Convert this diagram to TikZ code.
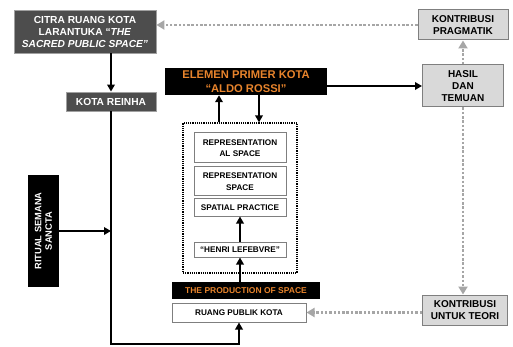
\documentclass[tikz,border=0pt]{standalone}
\usepackage{fontspec}
\setmainfont{Liberation Sans}
\definecolor{boxdark}{HTML}{4D4D4D}
\definecolor{boxedge}{HTML}{A0A0A0}
\definecolor{boxlight}{HTML}{D9D9D9}
\definecolor{edgegray}{HTML}{7F7F7F}
\definecolor{textorange}{HTML}{E8842C}
\definecolor{linkgray}{HTML}{A6A6A6}
\usetikzlibrary{arrows.meta,positioning,calc}

\begin{document}
\begin{tikzpicture}[
  x=1pt, y=-1pt,
  darkbox/.style={draw=boxedge, fill=boxdark, text=white, line width=0.8pt,
    font=\fontsize{10.2}{12}\selectfont\bfseries, align=center, inner sep=1pt},
  blackbox/.style={fill=black, text=textorange, align=center, inner sep=1pt,
    font=\fontsize{8.5}{10}\selectfont\bfseries},
  greybox/.style={draw=edgegray, fill=boxlight, line width=1pt,
    font=\fontsize{10}{12.3}\selectfont\bfseries, align=center, inner sep=1pt},
  whitebox/.style={draw=edgegray, fill=white, line width=1pt,
    font=\fontsize{8.2}{11.5}\selectfont\bfseries, align=center, inner sep=1pt},
  flow/.style={line width=2.4pt, -{Triangle[length=7pt,width=7.5pt]}},
  feedback/.style={draw=linkgray, line width=2.6pt, dash pattern=on 2.5pt off 1.8pt,
    -{Triangle[length=8pt,width=9pt]}}
]
  \useasboundingbox (0,0) rectangle (513,347);

  % Left column
  \node[darkbox, minimum width=142pt, minimum height=43pt] (citra) at (85,31.5)
    {CITRA RUANG KOTA\\LARANTUKA “\textit{THE}\\\textit{SACRED PUBLIC SPACE”}};
  \node[darkbox, minimum width=90pt, minimum height=19pt] (reinha) at (111,101.5)
    {KOTA REINHA};
  \node[blackbox, text=white, rotate=90, minimum width=112pt, minimum height=31pt,
    font=\fontsize{9.3}{10.5}\selectfont\bfseries] (ritual) at (43.5,231)
    {RITUAL SEMANA\\SANCTA};

  % Centre column (Rossi / Lefebvre)
  \node[blackbox, minimum width=162pt, minimum height=27pt,
    font=\fontsize{11.2}{14}\selectfont\bfseries] (elemen) at (246,81.5)
    {ELEMEN PRIMER KOTA\\“ALDO ROSSI”};
  \node[draw, line width=1.2pt, dash pattern=on 1.2pt off 1pt,
    minimum width=114pt, minimum height=150pt] (frame) at (240,198) {};
  \node[whitebox, minimum width=92pt, minimum height=30pt] (repal) at (240,148)
    {REPRESENTATION\\AL SPACE};
  \node[whitebox, minimum width=92pt, minimum height=29pt] (repsp) at (240,181.5)
    {REPRESENTATION\\SPACE};
  \node[whitebox, minimum width=92pt, minimum height=17pt] (spatial) at (240,207.5)
    {SPATIAL PRACTICE};
  \node[whitebox, minimum width=92pt, minimum height=15pt] (henri) at (240,249.5)
    {“HENRI LEFEBVRE”};
  \node[blackbox, minimum width=148pt, minimum height=17pt] (production) at (246,290.5)
    {THE PRODUCTION OF SPACE};
  \node[whitebox, minimum width=134pt, minimum height=19pt] (ruang) at (239,312.5)
    {RUANG PUBLIK KOTA};

  % Right column
  \node[greybox, minimum width=90pt, minimum height=30pt] (pragmatik) at (463,25)
    {KONTRIBUSI\\PRAGMATIK};
  \node[greybox, minimum width=81pt, minimum height=42pt] (hasil) at (463,86)
    {HASIL\\DAN\\TEMUAN};
  \node[greybox, minimum width=85pt, minimum height=30pt] (teori) at (465,310)
    {KONTRIBUSI\\UNTUK TEORI};

  % Solid flow
  \coordinate (low) at (239,344);
  \draw[flow] (citra.south -| reinha.north) -- (reinha.north);
  \draw[flow] (reinha.south) |- (low) -- (ruang.south);
  \draw[flow] (ritual.south) -- (ritual.south -| reinha.south);
  \draw[flow] ([xshift=-21pt]frame.north) -- ([xshift=-21pt]frame.north |- elemen.south);
  \draw[flow] ([xshift=19pt]frame.north |- elemen.south) -- ([xshift=19pt]frame.north);
  \draw[flow] (henri.north) -- (spatial.south);
  \draw[flow] (production.north -| henri.south) -- (henri.south);
  \draw[flow] (elemen.east |- hasil.west) -- (hasil.west);

  % Feedback links
  \draw[feedback] (hasil.north) -- (hasil.north |- pragmatik.south);
  \draw[feedback] (hasil.south) -- (hasil.south |- teori.north);
  \draw[feedback] (pragmatik.west) -- (pragmatik.west -| citra.east);
  \draw[feedback] (teori.west |- ruang.east) -- (ruang.east);
\end{tikzpicture}
\end{document}
